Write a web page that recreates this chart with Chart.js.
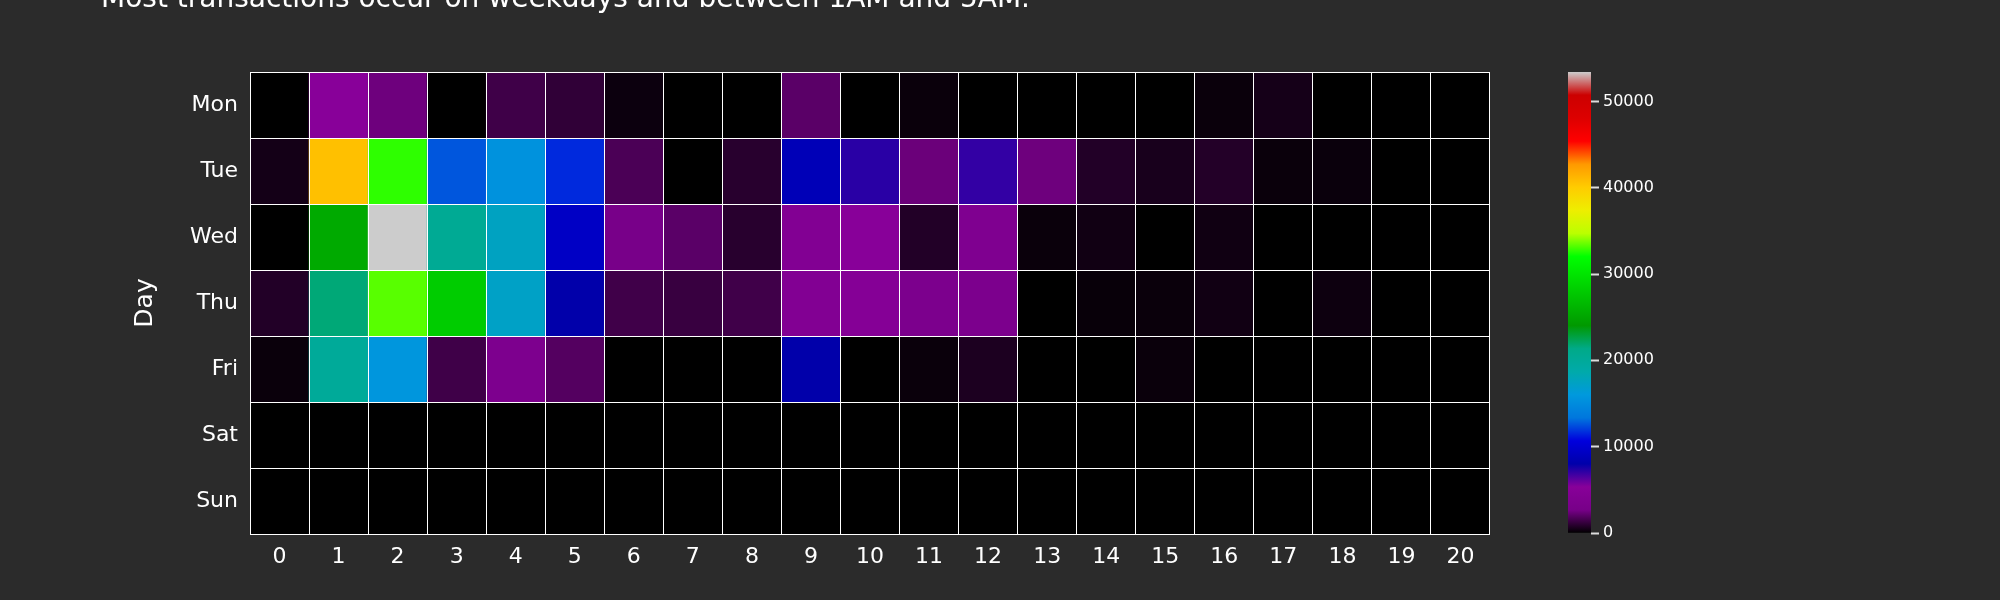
<!DOCTYPE html>
<html lang="en">
<head>
    <meta charset="UTF-8">
    <title>Transactions heatmap</title>
    <script src="https://cdn.jsdelivr.net/npm/chart.js@4.4.0/dist/chart.umd.min.js"></script>
    <style>
        body { margin:0; background:#2b2b2b; width:2000px; height:600px; overflow:hidden; position:relative; }
        canvas { position:absolute; top:0; }
    </style>
</head>
<body>
    <canvas id="heat" width="1540" height="600" style="left:0"></canvas>
    <canvas id="cbar" width="250" height="600" style="left:1500px"></canvas>
<script>
    // values (transactions per day / hour)
    var hours = ['0','1','2','3','4','5','6','7','8','9','10','11','12','13','14','15','16','17','18','19','20'];
    var days = ['Mon','Tue','Wed','Thu','Fri','Sat','Sun'];
    var mon = [0, 5300, 2460, 0, 1410, 1080, 270, 0, 0, 2020, 0, 220, 0, 0, 0, 0, 220, 470, 0, 0, 0];
    var tue = [450, 40700, 32700, 12600, 15500, 11600, 1680, 0, 900, 8700, 7200, 2400, 7000, 2460, 760, 540, 780, 220, 230, 0, 0];
    var wed = [0, 25400, 53400, 20400, 17500, 9400, 2750, 2020, 900, 4400, 5300, 760, 4000, 220, 380, 0, 360, 0, 0, 0, 0];
    var thu = [760, 21700, 33300, 28000, 17200, 8000, 1430, 1260, 1430, 4400, 4800, 3400, 3400, 0, 170, 220, 380, 0, 300, 0, 0];
    var fri = [220, 20000, 15800, 1410, 3600, 1880, 0, 0, 0, 8000, 0, 220, 630, 0, 0, 220, 0, 0, 0, 0, 0];
    var sat = [0, 0, 0, 0, 0, 0, 0, 0, 0, 0, 0, 0, 0, 0, 0, 0, 0, 0, 0, 0, 0];
    var sun = [0, 0, 0, 0, 0, 0, 0, 0, 0, 0, 0, 0, 0, 0, 0, 0, 0, 0, 0, 0, 0];
    var rows = [mon, tue, wed, thu, fri, sat, sun];
    var cbarTicks = [0, 10000, 20000, 30000, 40000, 50000];
    var titleText = 'Most transactions occur on weekdays and between 1AM and 5AM.';

    // nipy_spectral
    var cmap = [[0,0,0,0],[0.05,0.4667,0,0.5333],[0.10,0.5333,0,0.6],[0.15,0,0,0.6667],[0.20,0,0,0.8667],
        [0.25,0,0.4667,0.8667],[0.30,0,0.6,0.8667],[0.35,0,0.6667,0.6667],[0.40,0,0.6667,0.5333],[0.45,0,0.6,0],
        [0.50,0,0.7333,0],[0.55,0,0.8667,0],[0.60,0,1,0],[0.65,0.7333,1,0],[0.70,0.9333,0.9333,0],[0.75,1,0.8,0],
        [0.80,1,0.6,0],[0.85,1,0,0],[0.90,0.8667,0,0],[0.95,0.8,0,0],[1,0.8,0.8,0.8]];
    var vmax = Math.max.apply(null, rows.map(r => Math.max.apply(null, r)));

    function cmapColor(t){
        t = Math.max(0, Math.min(1, t));
        for(var i=1;i<cmap.length;i++){
            if(t <= cmap[i][0]){
                var a = cmap[i-1], b = cmap[i], f = (t-a[0])/(b[0]-a[0]);
                var c = [1,2,3].map(k => Math.round(255*(a[k]+(b[k]-a[k])*f)));
                return 'rgb('+c.join(',')+')';
            }
        }
        return 'rgb(204,204,204)';
    }

    Chart.defaults.font.family = 'DejaVu Sans';
    Chart.defaults.color = '#ffffff';

    var titlePlugin = {
        id:'topTitle',
        afterDraw(chart){
            var c = chart.ctx;
            c.save();
            c.font = '28px "DejaVu Sans"';
            c.fillStyle = '#ffffff';
            c.textBaseline = 'alphabetic';
            c.fillText(titleText, 101, 7);
            c.restore();
        }
    };

    new Chart(document.getElementById('heat'), {
        type:'bar',
        data:{
            labels:hours,
            datasets: rows.map((r,i) => ({
                label:days[i],
                data:r.map(() => 1),
                backgroundColor:r.map(v => cmapColor(v/vmax)),
                borderWidth:0,
                barPercentage:1,
                categoryPercentage:1
            }))
        },
        options:{
            responsive:false,
            animation:false,
            layout:{padding:{left:126, top:72, right:50, bottom:0}},
            plugins:{legend:{display:false}, tooltip:{enabled:false}},
            scales:{
                x:{
                    stacked:true,
                    border:{display:false},
                    grid:{offset:true, color:'#ffffff', lineWidth:1, drawTicks:false, z:1},
                    ticks:{font:{size:22}, padding:10, maxRotation:0, autoSkip:false, color:'#ffffff'},
                    afterFit: s => { s.height = 66; }
                },
                y:{
                    stacked:true, reverse:true, min:0, max:7,
                    border:{display:false},
                    grid:{drawTicks:false, lineWidth:1, z:1,
                        color: c => Number.isInteger(c.tick.value) ? '#ffffff' : 'rgba(0,0,0,0)'},
                    afterBuildTicks: s => {
                        var t = [];
                        for(var i=0;i<=14;i++) t.push({value:i/2});
                        s.ticks = t;
                    },
                    ticks:{autoSkip:false, font:{size:22}, padding:12, color:'#ffffff',
                        callback: v => Number.isInteger(v) ? '' : days[Math.floor(v)]},
                    title:{display:true, text:'Day', color:'#ffffff', font:{size:25}},
                    afterFit: s => { s.width = 124; }
                }
            }
        },
        plugins:[titlePlugin]
    });

    function barGradient(chart){
        var area = chart.chartArea;
        if(!area) return '#000';
        var g = chart.ctx.createLinearGradient(0, area.bottom, 0, area.top);
        cmap.forEach(s => g.addColorStop(s[0], cmapColor(s[0])));
        return g;
    }

    new Chart(document.getElementById('cbar'), {
        type:'bar',
        data:{
            labels:[''],
            datasets:[{data:[vmax], backgroundColor: c => barGradient(c.chart), borderWidth:0, barPercentage:1, categoryPercentage:1}]
        },
        options:{
            responsive:false,
            animation:false,
            layout:{padding:{left:68, top:72, bottom:67, right:0}},
            plugins:{legend:{display:false}, tooltip:{enabled:false}},
            scales:{
                x:{display:false},
                y:{
                    position:'right', min:0, max:vmax,
                    border:{display:false},
                    grid:{drawOnChartArea:false, drawTicks:true, tickLength:8, tickColor:'#dddddd', tickWidth:2},
                    afterBuildTicks: s => { s.ticks = cbarTicks.map(v => ({value:v})); },
                    ticks:{font:{size:16}, padding:4, color:'#ffffff', callback: v => String(v)},
                    afterFit: s => { s.width = 159; }
                }
            }
        }
    });
</script>
</body>
</html>
